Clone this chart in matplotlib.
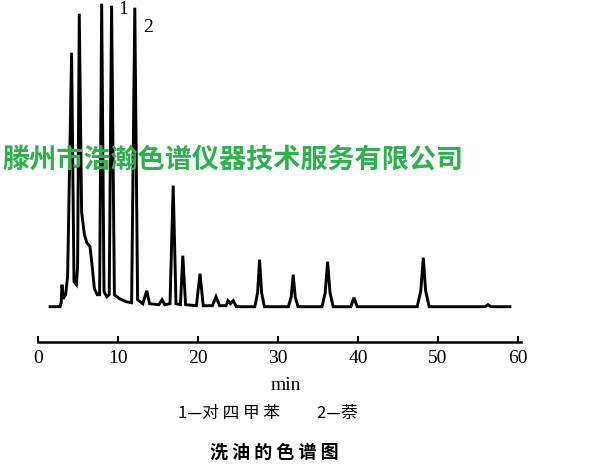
import matplotlib
matplotlib.use("Agg")
import matplotlib.pyplot as plt

# trace (time in min, response above baseline)
times = [1.5, 2.75, 2.9, 3.0, 3.15, 3.45, 3.7, 4.2, 4.5, 4.8, 4.95, 5.16, 5.45,
         5.8, 6.1, 6.5, 6.75, 7.05, 7.4, 7.7, 7.96, 8.25, 8.6, 8.9, 9.2, 9.55,
         10.2, 11.0, 11.7, 12.1, 12.45, 13.1, 13.6, 13.95, 15.1, 15.5, 15.85,
         16.5, 16.9, 17.25, 17.8, 18.1, 18.45, 19.8, 20.25, 20.65, 21.8, 22.25,
         22.7, 23.5, 23.75, 24.05, 24.4, 24.8, 27.1, 27.45, 27.7, 27.95, 28.3,
         31.3, 31.65, 31.9, 32.15, 32.5, 35.5, 35.9, 36.2, 36.5, 36.9, 39.1, 39.5,
         39.9, 47.4, 47.85, 48.16, 48.45, 48.9, 55.9, 56.25, 56.6, 59.0]
signal = [0, 0, 4, 22, 8, 12, 30, 254, 25, 22, 40, 293, 95,
          72, 64, 60, 42, 18, 12, 12, 303, 15, 10, 12, 301, 12,
          8, 5, 4, 299, 7, 3, 16, 3, 2, 7, 2,
          3, 121, 3, 2, 51, 2, 1, 33, 1, 1, 10,
          1, 1, 6, 3, 6, 0, 0, 14, 47, 14, 0,
          0, 10, 32, 10, 0, 0, 14, 45, 14, 0, 0, 9,
          0, 0, 16, 49, 16, 0, 0, 2, 0, 0]

ticks = [0, 10, 20, 30, 40, 50, 60]
peak_labels = ["1", "2"]
peak_label_x = [10.6, 13.75]
peak_label_y = [297, 279]

caption = "1—对 四 甲 苯　　 2—萘"
title = "洗 油 的 色 谱 图"
watermark = "滕州市浩瀚色谱仪器技术服务有限公司"

cjk = ["Noto Sans CJK SC", "DejaVu Sans"]

fig = plt.figure(figsize=(6, 4.67), dpi=100)
ax = fig.add_axes([38 / 600, 1 - 342 / 467, 60.4 * 8 / 600, 342 / 467])
ax.set_xlim(0, 60.4)
ax.set_ylim(-35.3, 306.7)

ax.plot(times, signal, color="black", lw=2.1, solid_joinstyle="miter")

for lab, lx, ly in zip(peak_labels, peak_label_x, peak_label_y):
    ax.text(lx, ly, lab, family="Liberation Serif", fontsize=14,
            ha="center", va="center")

for s in ["top", "left", "right"]:
    ax.spines[s].set_visible(False)
ax.spines["bottom"].set_linewidth(1.8)
ax.set_yticks([])
ax.set_xticks(ticks)
ax.tick_params(axis="x", direction="in", length=4, width=1.5, pad=6,
               labelsize=14)
for t in ax.get_xticklabels():
    t.set_family("Liberation Serif")

ax.set_xlabel("min", family="Liberation Serif", fontsize=14)
ax.xaxis.set_label_coords((286 - 38) / (60.4 * 8), -(386 - 342) / 342)
ax.xaxis.label.set_va("center")

fig.text(268 / 600, 1 - 413 / 467, caption, family=cjk,
         fontsize=12, ha="center", va="center")
fig.text(274 / 600, 1 - 452 / 467, title, family=cjk,
         fontsize=13, weight="bold", ha="center", va="center")

fig.text(2 / 600, 1 - 160 / 467, watermark, family=cjk,
         fontsize=19.5, weight="bold", color="#2bb24c", ha="left", va="center",
         zorder=10)

fig.savefig("out.png", dpi=100)
